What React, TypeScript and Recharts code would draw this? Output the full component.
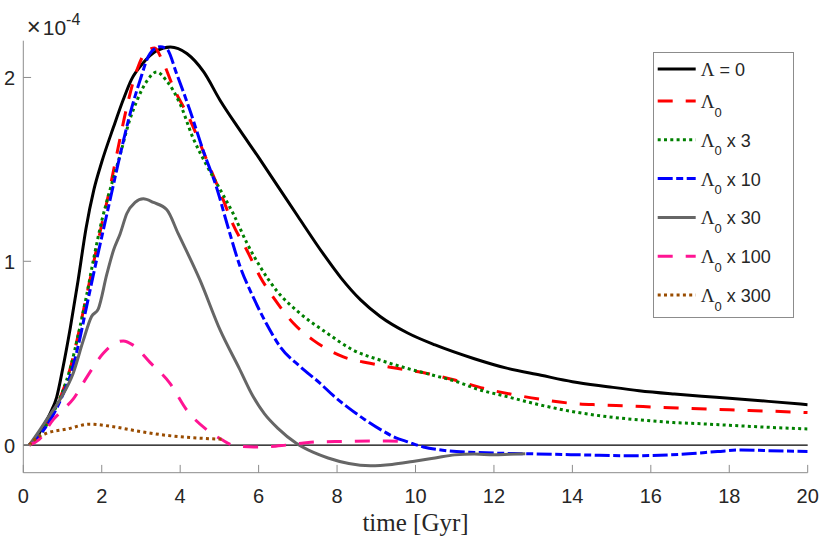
import React from 'react';
import { LineChart, Line, XAxis, YAxis, ReferenceLine, Legend } from 'recharts';

// time [Gyr] vs value (in units of 1e-4)
const LAMBDA_ZERO: [number, number][] = [
  [0.15, 0], [0.3, 0.03], [0.5, 0.1], [0.7, 0.18], [0.85, 0.26], [1.0, 0.41], [1.2, 0.64], [1.4, 0.9],
  [1.6, 1.18], [1.8, 1.39], [2.0, 1.54], [2.3, 1.73], [2.55, 1.88], [2.76, 1.99], [3.06, 2.08], [3.4, 2.145],
  [3.75, 2.166], [4.17, 2.13], [4.6, 2.03], [5.02, 1.875], [5.5, 1.72], [6.0, 1.565], [6.5, 1.405], [7.0, 1.245],
  [7.65, 1.04], [8.1, 0.91], [8.6, 0.79], [9.1, 0.7], [9.8, 0.61], [10.5, 0.545], [11.5, 0.47],
  [12.3, 0.42], [13.2, 0.38], [14.0, 0.345], [14.9, 0.318], [15.7, 0.296], [16.6, 0.278], [17.3, 0.266],
  [18, 0.255], [19, 0.238], [20, 0.22],
];

const LAMBDA_1: [number, number][] = [
  [0.15, 0], [0.4, 0.05], [0.75, 0.17], [1.0, 0.29], [1.2, 0.42], [1.4, 0.6], [1.6, 0.8], [1.8, 1.0],
  [2.0, 1.2], [2.2, 1.39], [2.42, 1.62], [2.64, 1.84], [2.93, 2.06], [3.15, 2.145], [3.35, 2.16], [3.53, 2.1],
  [3.82, 1.95], [4.25, 1.77], [4.68, 1.55], [5.05, 1.36], [5.35, 1.2], [5.7, 1.06], [6.04, 0.915], [6.42, 0.79],
  [6.9, 0.66], [7.4, 0.57], [8.16, 0.48], [8.84, 0.445], [9.52, 0.418], [10.3, 0.39], [11.0, 0.354],
  [11.73, 0.309], [12.41, 0.278], [13.17, 0.25], [13.94, 0.228], [14.7, 0.219], [15.47, 0.213], [16.15, 0.206],
  [17, 0.2], [18, 0.192], [19, 0.185], [20, 0.177],
];

const LAMBDA_3: [number, number][] = [
  [0.15, 0], [0.4, 0.05], [0.75, 0.17], [1.0, 0.29], [1.2, 0.42], [1.4, 0.6], [1.6, 0.8], [1.8, 1.02],
  [2.0, 1.22], [2.2, 1.38], [2.47, 1.58], [2.7, 1.76], [2.89, 1.87], [3.15, 1.98], [3.4, 2.03], [3.66, 1.98],
  [3.99, 1.86], [4.33, 1.67], [4.68, 1.52], [5.02, 1.39], [5.35, 1.26], [5.7, 1.1], [6.04, 0.97], [6.46, 0.84],
  [7.06, 0.716], [7.74, 0.61], [8.41, 0.517], [9.09, 0.463], [9.78, 0.418], [10.45, 0.38], [11.13, 0.34],
  [11.5, 0.31], [12.33, 0.264], [13.17, 0.219], [14.02, 0.182], [14.88, 0.155], [15.72, 0.137], [16.57, 0.123],
  [17.2, 0.117], [18, 0.108], [19, 0.097], [20, 0.088],
];

const LAMBDA_10: [number, number][] = [
  [0.15, 0], [0.4, 0.05], [0.75, 0.16], [1.0, 0.27], [1.2, 0.38], [1.4, 0.54], [1.6, 0.74], [1.8, 0.94],
  [2.04, 1.17], [2.25, 1.37], [2.47, 1.58], [2.72, 1.8], [2.97, 1.98], [3.23, 2.13], [3.49, 2.167], [3.66, 2.155],
  [3.91, 2.02], [4.25, 1.82], [4.59, 1.6], [4.93, 1.4], [5.2, 1.2], [5.53, 0.97], [5.86, 0.806], [6.2, 0.66],
  [6.55, 0.535], [7.06, 0.427], [7.57, 0.336], [7.9, 0.27], [8.31, 0.2], [8.7, 0.14], [9.12, 0.083], [9.5, 0.04],
  [9.8, 0.018], [10.2, -0.01], [10.74, -0.029], [11.55, -0.04], [12.9, -0.047], [14.26, -0.053], [15.6, -0.058],
  [16.96, -0.047], [17.7, -0.035], [18.3, -0.026], [19, -0.03], [20, -0.034],
];

const LAMBDA_30: [number, number][] = [
  [0.15, 0], [0.35, 0.06], [0.6, 0.14], [0.94, 0.25], [1.27, 0.39], [1.53, 0.57], [1.74, 0.7], [1.91, 0.74],
  [2.13, 0.93], [2.3, 1.06], [2.47, 1.15], [2.64, 1.26], [2.85, 1.32], [3.06, 1.34], [3.32, 1.32], [3.66, 1.28],
  [3.95, 1.15], [4.5, 0.9], [5.02, 0.625], [5.5, 0.42], [5.86, 0.264], [6.15, 0.17], [6.5, 0.09], [6.96, 0.01],
  [7.4, -0.04], [7.77, -0.07], [8.3, -0.1], [8.85, -0.112], [9.4, -0.105], [9.93, -0.089], [10.5, -0.07],
  [11.0, -0.053], [11.5, -0.048], [12.0, -0.053], [12.4, -0.05], [12.8, -0.047],
];

const LAMBDA_100: [number, number][] = [
  [0.15, 0], [0.4, 0.03], [0.77, 0.14], [1.0, 0.19], [1.27, 0.25], [1.62, 0.37], [2.04, 0.5], [2.3, 0.55],
  [2.55, 0.567], [2.8, 0.544], [3.23, 0.45], [3.74, 0.336], [4.17, 0.19], [4.68, 0.083], [5.07, 0.029],
  [5.34, 0], [5.88, -0.01], [6.3, -0.008], [6.69, 0], [7.1, 0.01], [7.5, 0.018], [8.18, 0.02], [8.85, 0.022],
  [9.3, 0.022], [9.8, 0.018],
];

const LAMBDA_300: [number, number][] = [
  [0.15, 0], [0.35, 0.04], [0.6, 0.065], [1.1, 0.087], [1.7, 0.114], [2.3, 0.1], [2.98, 0.074], [3.66, 0.053],
  [4.5, 0.038], [5.1, 0.032],
];

const X_TICKS = [0, 2, 4, 6, 8, 10, 12, 14, 16, 18, 20];
const Y_TICKS = [0, 1, 2];
const LEGEND_SUB = ['', '0', '0', '0', '0', '0', '0'];
const LEGEND_SUFFIX = [' = 0', '', ' x 3', ' x 10', ' x 30', ' x 100', ' x 300'];

const SERIES = [
  { key: 'l0', pts: LAMBDA_ZERO, color: '#000000', dash: undefined },
  { key: 'l1', pts: LAMBDA_1, color: '#ff0000', dash: '15 13' },
  { key: 'l3', pts: LAMBDA_3, color: '#008000', dash: '3 3.3' },
  { key: 'l10', pts: LAMBDA_10, color: '#0000ff', dash: '15 3.5 7 3.5' },
  { key: 'l30', pts: LAMBDA_30, color: '#666666', dash: undefined },
  { key: 'l100', pts: LAMBDA_100, color: '#ff1493', dash: '15 13' },
  { key: 'l300', pts: LAMBDA_300, color: '#994c00', dash: '3 3.3' },
];

const AXIS = '#8c8c8c';
const TEXT = '#262626';
const SANS = '"Liberation Sans", Arial, sans-serif';
const SERIF = '"Liberation Serif", "Times New Roman", serif';
const TICK_LEN = 7.8;

const BottomTick = ({ x, y, payload }: any) => (
  <g>
    <line x1={x} x2={x} y1={y} y2={y - TICK_LEN} stroke={AXIS} />
    <text x={x} y={y + 30.6} textAnchor="middle" fill={TEXT} style={{ fontSize: '20px', fontFamily: SANS }}>
      {payload.value}
    </text>
  </g>
);

const TopTick = ({ x, y }: any) => <line x1={x} x2={x} y1={y} y2={y + TICK_LEN} stroke={AXIS} />;

const LeftTick = ({ x, y, payload }: any) => (
  <g>
    <line x1={x} x2={x + TICK_LEN} y1={y} y2={y} stroke={AXIS} />
    <text x={x - 8.3} y={y + 8} textAnchor="end" fill={TEXT} style={{ fontSize: '20px', fontFamily: SANS }}>
      {payload.value}
    </text>
  </g>
);

const RightTick = ({ x, y }: any) => <line x1={x} x2={x - TICK_LEN} y1={y} y2={y} stroke={AXIS} />;

const ExponentLabel = ({ viewBox }: any) => (
  <text x={viewBox.x + viewBox.width + 3.4} y={viewBox.y - 5.7} fill={TEXT} style={{ fontSize: '21px', fontFamily: SANS }}>
    <tspan style={{ fontSize: '24px' }}>×</tspan>
    <tspan dx={2}>10</tspan>
    <tspan dy={-10} style={{ fontSize: '16px' }}>-4</tspan>
  </text>
);

const TimeLabel = ({ viewBox }: any) => (
  <text x={viewBox.x + viewBox.width / 2} y={viewBox.y + 57.8} textAnchor="middle" fill={TEXT} style={{ fontSize: '25px', fontFamily: SERIF }}>
    time [Gyr]
  </text>
);

const rowY = (i: number) => (i === 0 ? 17 : 49 + (i - 1) * 38.8);

const LegendBox = () => (
  <svg width={141} height={266} style={{ display: 'block' }}>
    <rect x={0.5} y={0.5} width={140} height={265} fill="#ffffff" stroke={AXIS} />
    {SERIES.map((s, i) => (
      <g key={s.key}>
        <line x1={4.7} x2={42.7} y1={rowY(i)} y2={rowY(i)} stroke={s.color} strokeWidth={3} strokeDasharray={s.dash} />
        <text x={47.7} y={rowY(i) + 7} fill={TEXT} style={{ whiteSpace: 'pre', fontSize: '18px', fontFamily: SANS }}>
          <tspan style={{ fontFamily: SERIF, fontSize: '19px' }}>Λ</tspan>
          {LEGEND_SUB[i] ? <tspan dy={8.5} style={{ fontSize: '13px' }}>{LEGEND_SUB[i]}</tspan> : null}
          <tspan dy={LEGEND_SUB[i] ? -8.5 : 0}>{LEGEND_SUFFIX[i]}</tspan>
        </text>
      </g>
    ))}
  </svg>
);

const toPoints = (pts: [number, number][]) => pts.map(([t, v]) => ({ t, v }));

export default function App() {
  return (
    <div style={{ position: 'absolute', left: 0, top: 0, background: '#ffffff' }}>
      <LineChart width={830} height={540} margin={{ top: 40.7, right: 22.3, bottom: 37.3, left: 0 }}>
        <XAxis
          type="number"
          dataKey="t"
          domain={[0, 20]}
          ticks={X_TICKS}
          allowDataOverflow
          height={30}
          tickSize={0}
          tickMargin={0}
          tickLine={false}
          axisLine={{ stroke: AXIS }}
          tick={(p: any) => <BottomTick {...p} />}
          label={{ content: (p: any) => <TimeLabel viewBox={p.viewBox} /> }}
        />
        <XAxis
          xAxisId="top"
          orientation="top"
          type="number"
          domain={[0, 20]}
          ticks={X_TICKS}
          allowDataOverflow
          height={0}
          tickSize={0}
          tickMargin={0}
          tickLine={false}
          axisLine={{ stroke: AXIS }}
          tick={(p: any) => <TopTick {...p} />}
        />
        <YAxis
          type="number"
          domain={[-0.15, 2.2]}
          ticks={Y_TICKS}
          allowDataOverflow
          width={23.3}
          tickSize={0}
          tickMargin={0}
          tickLine={false}
          axisLine={{ stroke: AXIS }}
          tick={(p: any) => <LeftTick {...p} />}
          label={{ content: (p: any) => <ExponentLabel viewBox={p.viewBox} /> }}
        />
        <YAxis
          yAxisId="right"
          orientation="right"
          type="number"
          domain={[-0.15, 2.2]}
          ticks={Y_TICKS}
          allowDataOverflow
          width={0}
          tickSize={0}
          tickMargin={0}
          tickLine={false}
          axisLine={{ stroke: AXIS }}
          tick={(p: any) => <RightTick {...p} />}
        />
        <ReferenceLine y={0} stroke="#000000" strokeWidth={1.2} />
        {SERIES.map((s) => (
          <Line
            key={s.key}
            data={toPoints(s.pts)}
            dataKey="v"
            type="monotone"
            stroke={s.color}
            strokeWidth={3}
            strokeDasharray={s.dash}
            dot={false}
            activeDot={false}
            isAnimationActive={false}
          />
        ))}
        <Legend
          layout="vertical"
          align="center"
          verticalAlign="middle"
          wrapperStyle={{ left: 653, top: 52, width: 141, height: 266 }}
          content={() => <LegendBox />}
        />
      </LineChart>
    </div>
  );
}
